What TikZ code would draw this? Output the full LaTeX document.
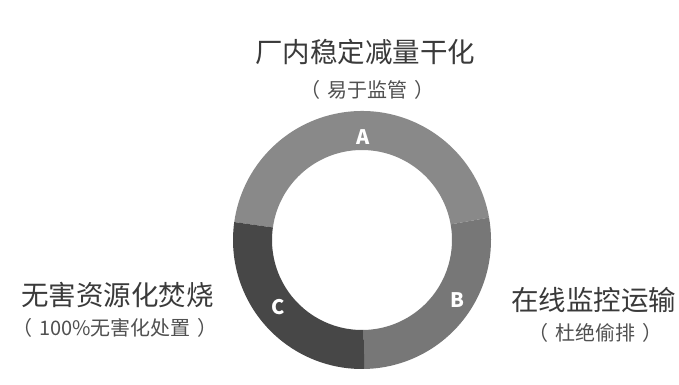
\documentclass[tikz,border=0pt]{standalone}
\usepackage{fontspec}
\setmainfont{Noto Sans CJK SC}
\definecolor{segA}{HTML}{898989}
\definecolor{segB}{HTML}{777777}
\definecolor{segC}{HTML}{474747}
\definecolor{txtmain}{HTML}{3A3A3A}
\definecolor{txtsub}{HTML}{505050}
\newcommand{\pgap}{\hspace{7pt}}
\begin{document}
\begin{tikzpicture}[x=1pt,y=1pt,
  mainlabel/.style={font=\fontsize{27.5}{31}\selectfont, text=txtmain, inner sep=0pt},
  sublabel/.style={font=\fontsize{20}{24}\selectfont, text=txtsub, inner sep=0pt},
  seglabel/.style={font=\fontsize{20}{24}\selectfont\bfseries, text=white, inner sep=0pt}]
\useasboundingbox (0,0) rectangle (679,384);
\fill[white] (0,0) rectangle (679,384);
\coordinate (ctr) at (362,144);
\def\Ro{129}\def\Ri{90}
% ring segments
\fill[segA, shift={(ctr)}] (10:\Ro) arc[start angle=10,end angle=172,radius=\Ro] -- (172:\Ri) arc[start angle=172,end angle=10,radius=\Ri] -- cycle;
\fill[segB, shift={(ctr)}] (-89:\Ro) arc[start angle=-89,end angle=10,radius=\Ro] -- (10:\Ri) arc[start angle=10,end angle=-89,radius=\Ri] -- cycle;
\fill[segC, shift={(ctr)}] (172:\Ro) arc[start angle=172,end angle=271,radius=\Ro] -- (271:\Ri) arc[start angle=271,end angle=172,radius=\Ri] -- cycle;
% segment letters
\node[seglabel] (la) at (363,247) {A};
\node[seglabel] (lb) at (457,84) {B};
\node[seglabel] (lc) at (278,77) {C};
% labels
\node[mainlabel] (ta) at (365,332) {厂内稳定减量干化};
\node[sublabel] (sa) at (367,294) {（\pgap 易于监管\pgap ）};
\node[mainlabel, anchor=west] (tc) at (21,89) {无害资源化焚烧};
\node[sublabel, anchor=west] (sc) at (12,56) {（\pgap 100\%无害化处置\pgap ）};
\node[mainlabel, anchor=west] (tb) at (511,84) {在线监控运输};
\node[sublabel] (sb) at (595,51) {（\pgap 杜绝偷排\pgap ）};
\end{tikzpicture}
\end{document}
